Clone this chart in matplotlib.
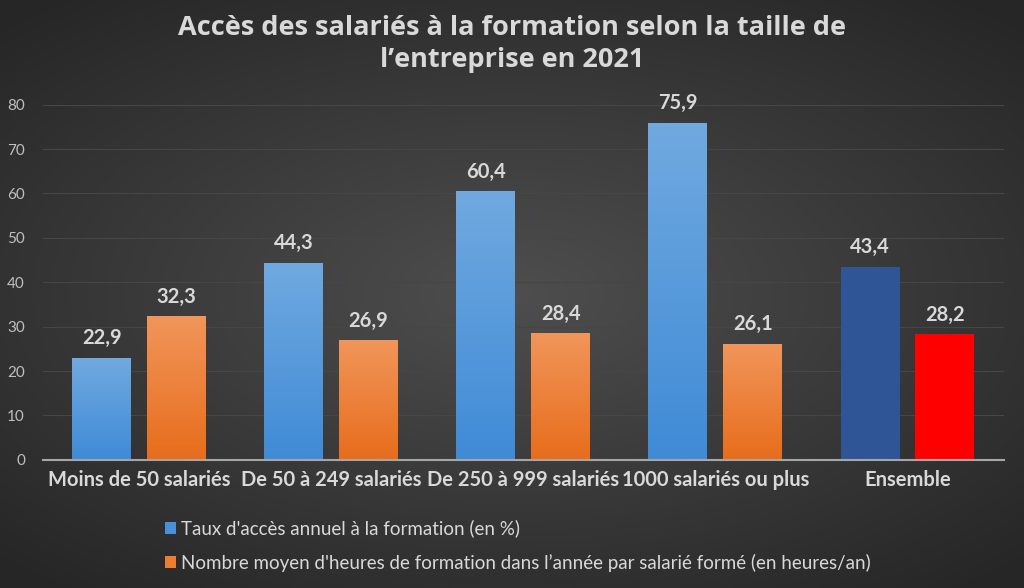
import numpy as np
import matplotlib.pyplot as plt
from matplotlib.patches import Patch
from matplotlib.colors import LinearSegmentedColormap

categories = ["Moins de 50 salariés", "De 50 à 249 salariés", "De 250 à 999 salariés",
              "1000 salariés ou plus", "Ensemble"]
taux_acces = [22.9, 44.3, 60.4, 75.9, 43.4]
heures_moy = [32.3, 26.9, 28.4, 26.1, 28.2]
labels_series = ["Taux d'accès annuel à la formation (en %)",
                 "Nombre moyen d'heures de formation dans l\u2019année par salarié formé (en heures/an)"]
title = "Accès des salariés à la formation selon la taille de\nl\u2019entreprise en 2021"

plt.rcParams['font.family'] = ['Lato', 'DejaVu Sans']
txt = '#d9d9d9'

fig = plt.figure(figsize=(10.24, 5.88), dpi=100)

# radial dark background
bg = fig.add_axes([0, 0, 1, 1], zorder=-10)
yy, xx = np.mgrid[-1:1:300j, -1:1:500j]
r = np.sqrt((xx * 0.9) ** 2 + (yy * 1.0) ** 2)
bg.imshow(r, cmap=LinearSegmentedColormap.from_list('bg', ['#4e4e4e', '#262626']),
          aspect='auto', extent=[0, 1, 0, 1], vmin=0, vmax=1.3)
bg.axis('off')

ax = fig.add_axes([0.042, 0.218, 0.938, 0.604])
ax.set_facecolor('none')

x = np.arange(len(categories))
w = 0.307
off = 0.195

blue_cm = LinearSegmentedColormap.from_list('b', ['#3f8bd6', '#70a9e0'])
orange_cm = LinearSegmentedColormap.from_list('o', ['#e76d1c', '#f1955a'])
ens_blue = LinearSegmentedColormap.from_list('eb', ['#2f5597', '#2f5597'])
ens_red = LinearSegmentedColormap.from_list('er', ['#ff0000', '#ff0000'])

b1 = ax.bar(x - off, taux_acces, w, color='none', zorder=2)
b2 = ax.bar(x + off, heures_moy, w, color='none', zorder=2)

grad = np.linspace(0, 1, 100).reshape(-1, 1)
for bars, cm, cm_last in [(b1, blue_cm, ens_blue), (b2, orange_cm, ens_red)]:
    for i, bar in enumerate(bars):
        x0, y0 = bar.get_x(), bar.get_y()
        bw, bh = bar.get_width(), bar.get_height()
        cmap = cm_last if i == len(bars) - 1 else cm
        ax.imshow(grad, cmap=cmap, origin='lower', aspect='auto',
                  extent=[x0, x0 + bw, y0, y0 + bh], zorder=2)
        ax.text(x0 + bw / 2, bh + 2.2, f"{bh:.1f}".replace('.', ','),
                ha='center', va='bottom', color=txt, fontsize=14.5, fontweight='bold')

ax.set_xlim(-0.5, len(categories) - 0.5)
ax.set_ylim(0, 80)
ax.set_yticks(range(0, 81, 10))
ax.set_xticks(x)
ax.set_xticklabels(categories, fontsize=14.5, fontweight='bold', color=txt)
ax.tick_params(axis='x', length=0, pad=7)
ax.tick_params(axis='y', length=0, labelsize=11, labelcolor='#bfbfbf', pad=13)
ax.grid(axis='y', color='#464646', linewidth=0.8, zorder=0)
ax.set_axisbelow(True)
for s in ['top', 'right', 'left']:
    ax.spines[s].set_visible(False)
ax.spines['bottom'].set_color('#a6a6a6')
ax.spines['bottom'].set_linewidth(1.5)

fig.suptitle(title, color=txt, fontsize=19.5, fontweight='bold', y=0.975, linespacing=1.3,
             family=['Open Sans', 'DejaVu Sans'])

handles = [Patch(facecolor='#4a90d9'), Patch(facecolor='#ed7d31')]
fig.legend(handles, labels_series, loc='upper left', bbox_to_anchor=(0.145, 0.145),
           frameon=False, fontsize=13.5, labelcolor=txt, handlelength=0.55, handleheight=0.55,
           handletextpad=0.3, labelspacing=0.85)

fig.savefig('out.png', dpi=100)
